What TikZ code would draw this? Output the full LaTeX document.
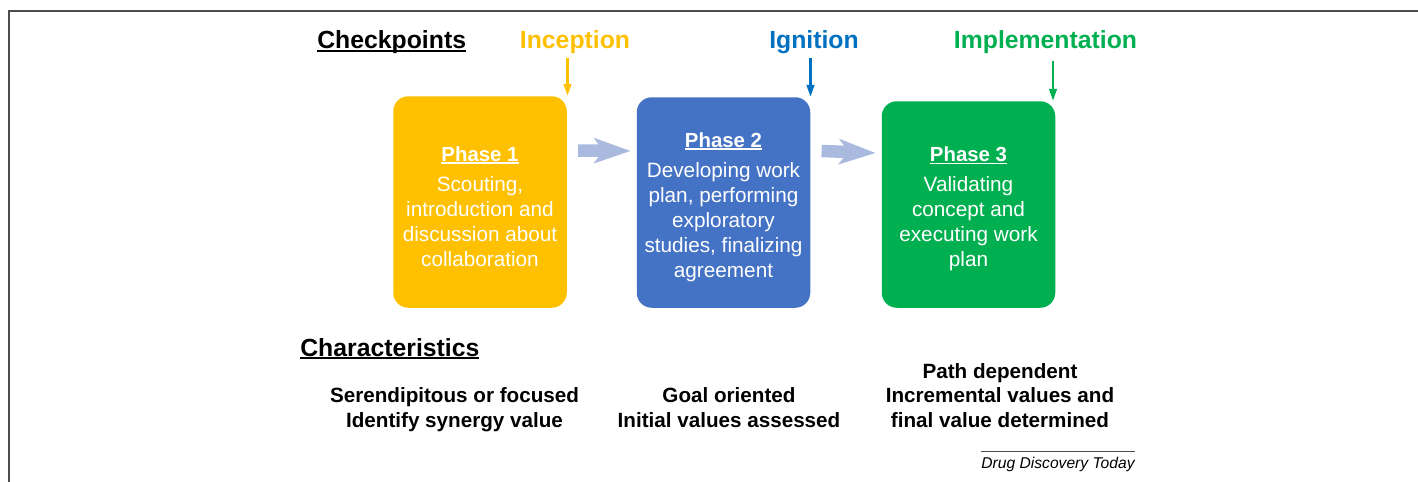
\documentclass[tikz,border=0pt]{standalone}
\usepackage{fontspec}
\setmainfont{Liberation Sans}
\usetikzlibrary{arrows.meta,positioning}
\definecolor{incep}{HTML}{FFC000}
\definecolor{ignit}{HTML}{0070C0}
\definecolor{impl}{HTML}{00B050}
\definecolor{phasetwo}{HTML}{4472C4}
\definecolor{flowgray}{RGB}{170,186,222}
\definecolor{framegray}{HTML}{4D4D4D}
\newcommand{\uhead}[1]{\setbox0=\hbox{#1}\rlap{\rule[-0.13em]{\wd0}{0.075em}}\box0}
\newcommand{\phasename}[1]{{\bfseries\fontsize{11.6}{14}\selectfont\rule{0pt}{13.5pt}\uhead{Phase #1}}}

\begin{document}
\begin{tikzpicture}[
  phase/.style={rounded corners=0.3cm, minimum width=3.47cm, inner sep=0pt, align=center, text=white, font=\fontsize{11.8}{14.2}\selectfont},
  heading/.style={inner sep=0pt, font=\bfseries\fontsize{14.1}{17}\selectfont},
  trait/.style={align=center, inner sep=0pt, font=\bfseries\fontsize{11.75}{13.9}\selectfont},
  check/.style={-{Triangle[length=0.24cm, width=0.15cm]}, line width=1.4pt},
  flow/.style={draw=flowgray, line width=0.25cm, -{Stealth[length=0.74cm, width=0.52cm, inset=0.2cm, line width=0pt]}}
]
  \useasboundingbox (0,0) rectangle (28.36,-9.64);
  % Frame
  \draw[framegray, line width=1.1pt] (0.186,-9.64) -- (0.186,-0.213) -- (28.36,-0.213);

  % Phases
  \node[phase, fill=incep, minimum height=4.23cm] (p1) at (9.60,-4.04)
    {\phasename{1}\\[3pt] Scouting,\\ introduction and\\ discussion about\\ collaboration};
  \node[phase, fill=phasetwo, minimum height=4.21cm] (p2) at (14.47,-4.05)
    {\phasename{2}\\[3pt] Developing work\\ plan, performing\\ exploratory\\ studies, finalizing\\ agreement};
  \node[phase, fill=impl, minimum height=4.13cm] (p3) at (19.37,-4.09)
    {\phasename{3}\\[3pt] Validating\\ concept and\\ executing work\\ plan};

  % Arrows between phases
  \draw[flow] ([shift={(0.22,1.03)}]p1.east) -- ([shift={(-0.12,1.03)}]p2.west);
  \draw[flow] ([shift={(0.22,1.03)}]p2.east) -- ([shift={(-0.12,1.03)}]p3.west);

  % Checkpoints
  \node[heading, anchor=base west] (chk) at (6.34,-0.97) {\uhead{Checkpoints}};
  \node[heading, anchor=base, text=incep] (inc) at (11.50,-0.97) {Inception};
  \node[heading, anchor=base, text=ignit] (ign) at (16.28,-0.97) {Ignition};
  \node[heading, anchor=base, text=impl] (imp) at (20.91,-0.97) {Implementation};

  \coordinate (inc-top) at (11.35,-1.16);
  \coordinate (ign-top) at (16.21,-1.16);
  \coordinate (imp-top) at (21.06,-1.21);
  \draw[check, incep] (inc-top) -- (inc-top |- p1.north);
  \draw[check, ignit] (ign-top) -- (ign-top |- p2.north);
  \draw[check, impl] (imp-top) -- (imp-top |- p3.north);

  % Characteristics
  \node[heading, anchor=base west] (chr) at (6.00,-7.12) {\uhead{Characteristics}};
  \node[trait, anchor=base] (t1) at (9.09,-8.54) {Serendipitous or focused\\ Identify synergy value};
  \node[trait, anchor=base] (t2) at (14.58,-8.54) {Goal oriented\\ Initial values assessed};
  \node[trait, anchor=base] (t3) at (20.00,-8.54) {Path dependent\\ Incremental values and\\ final value determined};

  % Source
  \node[anchor=base east, inner sep=0pt, font=\itshape\fontsize{8.9}{10}\selectfont] (src) at (22.70,-9.37) {Drug Discovery Today};
  \draw[framegray, line width=0.5pt] ([yshift=3pt]src.north west) -- ([yshift=3pt]src.north east);
\end{tikzpicture}
\end{document}
